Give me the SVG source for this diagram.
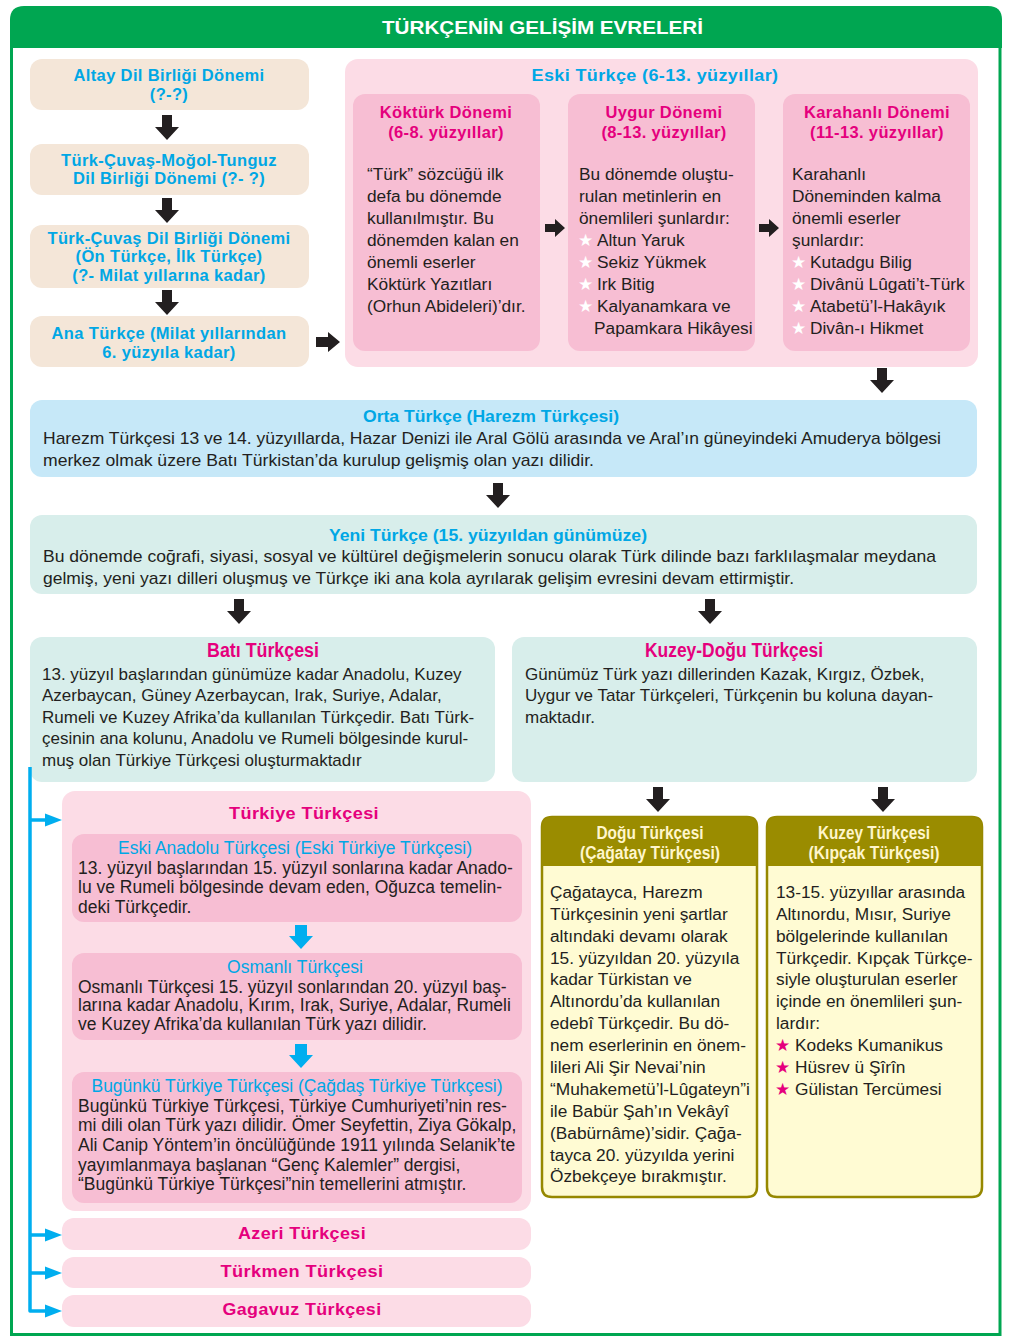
<svg xmlns="http://www.w3.org/2000/svg" width="1013" height="1343" viewBox="0 0 1013 1343">
<defs>
<style>
.bt{font-family:"Liberation Sans",Arial,sans-serif;font-weight:bold;font-size:16.5px;letter-spacing:.35px;text-anchor:middle}
.cy{fill:#00A7E5}
.mg{fill:#E5007D}
.tx{font-family:"Liberation Sans",Arial,sans-serif;font-size:17.3px;fill:#231F20}
.t17{font-size:17px}
.t175{font-size:17.5px}
.cd{font-family:"Liberation Sans Narrow","Liberation Sans",Arial,sans-serif;font-size:17px;fill:#231F20}
.cdt{font-family:"Liberation Sans Narrow","Liberation Sans",Arial,sans-serif;font-weight:bold;font-size:17px;fill:#00A7E5;text-anchor:middle}
.ds{font-family:"Liberation Sans",Arial,sans-serif;font-weight:bold;text-anchor:middle}
.ct{font-family:"Liberation Sans",Arial,sans-serif;font-size:17.5px;fill:#00A7E5;text-anchor:middle}
.st{font-family:"DejaVu Sans",sans-serif;font-size:17px}
.sw{fill:#ffffff}
.sm{fill:#E5007D}
.beige{fill:#F4E6D8}
.pk1{fill:#FCDCE6}
.pk2{fill:#F7BED3}
.blue{fill:#C6E8F8}
.teal{fill:#D8EEEB}
.ar{fill:#231F20}
.ac{fill:#00AEEF}
</style>
<path id="dA" d="M-5,0 H5 V12 H12 L0,25 L-12,12 H-5 Z"/>
<path id="rA" d="M0,-5 H12 V-10 L24,0 L12,10 V5 H0 Z"/>
<path id="rS" d="M0,-4 H10 V-9 L20,0 L10,9 V4 H0 Z"/>
<path id="cA" d="M-6,0 H6 V11 H12 L0,24 L-12,11 H-6 Z"/>
<path id="hA" d="M0,-6.5 L17,0 L0,6.5 Z"/>
</defs>

<!-- frame -->
<g id="frame">
<rect x="11.5" y="20" width="988.5" height="1314.5" fill="#ffffff" stroke="#00A651" stroke-width="3"/>
<path d="M10,48 V20 Q10,6 24,6 H988 Q1002,6 1002,20 V48 Z" fill="#00A651"/>
<text x="542.5" y="33.5" font-family="'Liberation Sans Narrow','Liberation Sans',Arial,sans-serif" font-weight="bold" font-size="19" fill="#ffffff" text-anchor="middle" textLength="321" lengthAdjust="spacingAndGlyphs">TÜRKÇENİN GELİŞİM EVRELERİ</text>
</g>

<!-- left column -->
<g id="altay">
<rect class="beige" x="30" y="59" width="279" height="51" rx="12"/>
<text class="bt cy" x="169" y="81">Altay Dil Birliği Dönemi</text>
<text class="bt cy" x="169" y="100">(?-?)</text>
</g>
<g id="tcmt">
<rect class="beige" x="30" y="144" width="279" height="51" rx="12"/>
<text class="bt cy" x="169" y="166">Türk-Çuvaş-Moğol-Tunguz</text>
<text class="bt cy" x="169" y="184">Dil Birliği Dönemi (?- ?)</text>
</g>
<g id="tc">
<rect class="beige" x="30" y="225" width="279" height="63" rx="12"/>
<text class="bt cy" x="169" y="244">Türk-Çuvaş Dil Birliği Dönemi</text>
<text class="bt cy" x="169" y="262">(Ön Türkçe, İlk Türkçe)</text>
<text class="bt cy" x="169" y="281">(?- Milat yıllarına kadar)</text>
</g>
<g id="ana">
<rect class="beige" x="30" y="316" width="279" height="51" rx="12"/>
<text class="bt cy" x="169" y="339">Ana Türkçe (Milat yıllarından</text>
<text class="bt cy" x="169" y="358">6. yüzyıla kadar)</text>
</g>

<!-- Eski Türkçe -->
<g id="eski">
<rect class="pk1" x="345" y="59" width="633" height="308" rx="13"/>
<text class="bt cy" x="655" y="81" textLength="247" lengthAdjust="spacingAndGlyphs">Eski Türkçe (6-13. yüzyıllar)</text>
</g>
<g id="kokturk">
<rect class="pk2" x="353" y="94" width="187" height="257" rx="12"/>
<text class="bt mg" x="446" y="118">Köktürk Dönemi</text>
<text class="bt mg" x="446" y="138">(6-8. yüzyıllar)</text>
<text class="tx" x="367" y="180">“Türk” sözcüğü ilk</text>
<text class="tx" x="367" y="202">defa bu dönemde</text>
<text class="tx" x="367" y="224">kullanılmıştır. Bu</text>
<text class="tx" x="367" y="246">dönemden kalan en</text>
<text class="tx" x="367" y="268">önemli eserler</text>
<text class="tx" x="367" y="290">Köktürk Yazıtları</text>
<text class="tx" x="367" y="312">(Orhun Abideleri)’dır.</text>
</g>
<g id="uygur">
<rect class="pk2" x="568" y="94" width="187" height="257" rx="12"/>
<text class="bt mg" x="664" y="118">Uygur Dönemi</text>
<text class="bt mg" x="664" y="138">(8-13. yüzyıllar)</text>
<text class="tx" x="579" y="180">Bu dönemde oluştu-</text>
<text class="tx" x="579" y="202">rulan metinlerin en</text>
<text class="tx" x="579" y="224">önemlileri şunlardır:</text>
<text class="tx" x="578" y="246"><tspan class="st sw">★</tspan><tspan x="597">Altun Yaruk</tspan></text>
<text class="tx" x="578" y="268"><tspan class="st sw">★</tspan><tspan x="597">Sekiz Yükmek</tspan></text>
<text class="tx" x="578" y="290"><tspan class="st sw">★</tspan><tspan x="597">Irk Bitig</tspan></text>
<text class="tx" x="578" y="312"><tspan class="st sw">★</tspan><tspan x="597">Kalyanamkara ve</tspan></text>
<text class="tx" x="594" y="334">Papamkara Hikâyesi</text>
</g>
<g id="karahanli">
<rect class="pk2" x="783" y="94" width="187" height="257" rx="12"/>
<text class="bt mg" x="877" y="118">Karahanlı Dönemi</text>
<text class="bt mg" x="877" y="138">(11-13. yüzyıllar)</text>
<text class="tx" x="792" y="180">Karahanlı</text>
<text class="tx" x="792" y="202">Döneminden kalma</text>
<text class="tx" x="792" y="224">önemli eserler</text>
<text class="tx" x="792" y="246">şunlardır:</text>
<text class="tx" x="791" y="268"><tspan class="st sw">★</tspan><tspan x="810">Kutadgu Bilig</tspan></text>
<text class="tx" x="791" y="290"><tspan class="st sw">★</tspan><tspan x="810">Divânü Lûgati’t-Türk</tspan></text>
<text class="tx" x="791" y="312"><tspan class="st sw">★</tspan><tspan x="810">Atabetü’l-Hakâyık</tspan></text>
<text class="tx" x="791" y="334"><tspan class="st sw">★</tspan><tspan x="810">Divân-ı Hikmet</tspan></text>
</g>

<!-- Orta Türkçe -->
<g id="orta">
<rect class="blue" x="30" y="400" width="947" height="77" rx="12"/>
<text class="cdt" x="491" y="422" textLength="256" lengthAdjust="spacingAndGlyphs">Orta Türkçe (Harezm Türkçesi)</text>
<text class="cd" x="43" y="444" textLength="898" lengthAdjust="spacingAndGlyphs">Harezm Türkçesi 13 ve 14. yüzyıllarda, Hazar Denizi ile Aral Gölü arasında ve Aral’ın güneyindeki Amuderya bölgesi</text>
<text class="cd" x="43" y="466" textLength="551" lengthAdjust="spacingAndGlyphs">merkez olmak üzere Batı Türkistan’da kurulup gelişmiş olan yazı dilidir.</text>
</g>

<!-- Yeni Türkçe -->
<g id="yeni">
<rect class="teal" x="30" y="515" width="947" height="79" rx="12"/>
<text class="cdt" x="488" y="541" textLength="318" lengthAdjust="spacingAndGlyphs">Yeni Türkçe (15. yüzyıldan günümüze)</text>
<text class="cd" x="43" y="562" textLength="893" lengthAdjust="spacingAndGlyphs">Bu dönemde coğrafi, siyasi, sosyal ve kültürel değişmelerin sonucu olarak Türk dilinde bazı farklılaşmalar meydana</text>
<text class="cd" x="43" y="584" textLength="751" lengthAdjust="spacingAndGlyphs">gelmiş, yeni yazı dilleri oluşmuş ve Türkçe iki ana kola ayrılarak gelişim evresini devam ettirmiştir.</text>
</g>

<!-- Batı -->
<g id="bati">
<rect class="teal" x="30" y="637" width="465" height="145" rx="12"/>
<text class="ds mg" x="263" y="657" font-size="20" textLength="112" lengthAdjust="spacingAndGlyphs">Batı Türkçesi</text>
<text class="tx t17" x="42" y="680">13. yüzyıl başlarından günümüze kadar Anadolu, Kuzey</text>
<text class="tx t17" x="42" y="701">Azerbaycan, Güney Azerbaycan, Irak, Suriye, Adalar,</text>
<text class="tx t17" x="42" y="723">Rumeli ve Kuzey Afrika’da kullanılan Türkçedir. Batı Türk-</text>
<text class="tx t17" x="42" y="744">çesinin ana kolunu, Anadolu ve Rumeli bölgesinde kurul-</text>
<text class="tx t17" x="42" y="766">muş olan Türkiye Türkçesi oluşturmaktadır</text>
</g>

<!-- Kuzey-Doğu -->
<g id="kuzeydogu">
<rect class="teal" x="512" y="637" width="465" height="145" rx="12"/>
<text class="ds mg" x="734" y="657" font-size="20" textLength="178" lengthAdjust="spacingAndGlyphs">Kuzey-Doğu Türkçesi</text>
<text class="tx t17" x="525" y="680">Günümüz Türk yazı dillerinden Kazak, Kırgız, Özbek,</text>
<text class="tx t17" x="525" y="701">Uygur ve Tatar Türkçeleri, Türkçenin bu koluna dayan-</text>
<text class="tx t17" x="525" y="723">maktadır.</text>
</g>

<!-- Türkiye Türkçesi -->
<g id="turkiye">
<rect class="pk1" x="62" y="791" width="469" height="420" rx="13"/>
<text class="bt mg" x="304" y="819" textLength="150" lengthAdjust="spacingAndGlyphs">Türkiye Türkçesi</text>
</g>
<g id="eskianadolu">
<rect class="pk2" x="72" y="834" width="450" height="88" rx="12"/>
<text class="ct" x="295" y="854">Eski Anadolu Türkçesi (Eski Türkiye Türkçesi)</text>
<text class="tx t175" x="78" y="874">13. yüzyıl başlarından 15. yüzyıl sonlarına kadar Anado-</text>
<text class="tx t175" x="78" y="893">lu ve Rumeli bölgesinde devam eden, Oğuzca temelin-</text>
<text class="tx t175" x="78" y="913">deki Türkçedir.</text>
</g>
<g id="osmanli">
<rect class="pk2" x="72" y="953" width="450" height="87" rx="12"/>
<text class="ct" x="295" y="973">Osmanlı Türkçesi</text>
<text class="tx t175" x="78" y="993">Osmanlı Türkçesi 15. yüzyıl sonlarından 20. yüzyıl baş-</text>
<text class="tx t175" x="78" y="1011">larına kadar Anadolu, Kırım, Irak, Suriye, Adalar, Rumeli</text>
<text class="tx t175" x="78" y="1030">ve Kuzey Afrika’da kullanılan Türk yazı dilidir.</text>
</g>
<g id="bugunku">
<rect class="pk2" x="72" y="1072" width="450" height="131" rx="12"/>
<text class="ct" x="297" y="1092">Bugünkü Türkiye Türkçesi (Çağdaş Türkiye Türkçesi)</text>
<text class="tx t175" x="78" y="1112">Bugünkü Türkiye Türkçesi, Türkiye Cumhuriyeti’nin res-</text>
<text class="tx t175" x="78" y="1131">mi dili olan Türk yazı dilidir. Ömer Seyfettin, Ziya Gökalp,</text>
<text class="tx t175" x="78" y="1151">Ali Canip Yöntem’in öncülüğünde 1911 yılında Selanik’te</text>
<text class="tx t175" x="78" y="1171">yayımlanmaya başlanan “Genç Kalemler” dergisi,</text>
<text class="tx t175" x="78" y="1190">“Bugünkü Türkiye Türkçesi”nin temellerini atmıştır.</text>
</g>
<g id="azeri">
<rect class="pk1" x="62" y="1218" width="469" height="32" rx="12"/>
<text class="bt mg" x="302" y="1239" textLength="128" lengthAdjust="spacingAndGlyphs">Azeri Türkçesi</text>
</g>
<g id="turkmen">
<rect class="pk1" x="62" y="1257" width="469" height="31" rx="12"/>
<text class="bt mg" x="302" y="1277" textLength="163" lengthAdjust="spacingAndGlyphs">Türkmen Türkçesi</text>
</g>
<g id="gagavuz">
<rect class="pk1" x="62" y="1295" width="469" height="32" rx="12"/>
<text class="bt mg" x="302" y="1315" textLength="159" lengthAdjust="spacingAndGlyphs">Gagavuz Türkçesi</text>
</g>

<!-- Doğu Türkçesi -->
<g id="dogu">
<path d="M542,827 Q542,817 552,817 H747 Q757,817 757,827 V1187 Q757,1197 747,1197 H552 Q542,1197 542,1187 Z" fill="#FFFBD3" stroke="#968800" stroke-width="2.5"/>
<path d="M542,866 V827 Q542,817 552,817 H747 Q757,817 757,827 V866 Z" fill="#9A8C00"/>
<text class="ds" x="650" y="839" font-size="17.5" fill="#FFF6CC" textLength="107" lengthAdjust="spacingAndGlyphs">Doğu Türkçesi</text>
<text class="ds" x="650" y="859" font-size="17.5" fill="#FFF6CC" textLength="140" lengthAdjust="spacingAndGlyphs">(Çağatay Türkçesi)</text>
<text class="tx" x="550" y="898">Çağatayca, Harezm</text>
<text class="tx" x="550" y="920">Türkçesinin yeni şartlar</text>
<text class="tx" x="550" y="942">altındaki devamı olarak</text>
<text class="tx" x="550" y="964">15. yüzyıldan 20. yüzyıla</text>
<text class="tx" x="550" y="985">kadar Türkistan ve</text>
<text class="tx" x="550" y="1007">Altınordu’da kullanılan</text>
<text class="tx" x="550" y="1029">edebî Türkçedir. Bu dö-</text>
<text class="tx" x="550" y="1051">nem eserlerinin en önem-</text>
<text class="tx" x="550" y="1073">lileri Ali Şir Nevai’nin</text>
<text class="tx" x="550" y="1095">“Muhakemetü’l-Lûgateyn”i</text>
<text class="tx" x="550" y="1117">ile Babür Şah’ın Vekâyî</text>
<text class="tx" x="550" y="1139">(Babürnâme)’sidir. Çağa-</text>
<text class="tx" x="550" y="1161">tayca 20. yüzyılda yerini</text>
<text class="tx" x="550" y="1182">Özbekçeye bırakmıştır.</text>
</g>

<!-- Kuzey Türkçesi -->
<g id="kuzey">
<path d="M767,827 Q767,817 777,817 H972 Q982,817 982,827 V1187 Q982,1197 972,1197 H777 Q767,1197 767,1187 Z" fill="#FFFBD3" stroke="#968800" stroke-width="2.5"/>
<path d="M767,866 V827 Q767,817 777,817 H972 Q982,817 982,827 V866 Z" fill="#9A8C00"/>
<text class="ds" x="874" y="839" font-size="17.5" fill="#FFF6CC" textLength="112" lengthAdjust="spacingAndGlyphs">Kuzey Türkçesi</text>
<text class="ds" x="874" y="859" font-size="17.5" fill="#FFF6CC" textLength="131" lengthAdjust="spacingAndGlyphs">(Kıpçak Türkçesi)</text>
<text class="tx" x="776" y="898">13-15. yüzyıllar arasında</text>
<text class="tx" x="776" y="920">Altınordu, Mısır, Suriye</text>
<text class="tx" x="776" y="942">bölgelerinde kullanılan</text>
<text class="tx" x="776" y="964">Türkçedir. Kıpçak Türkçe-</text>
<text class="tx" x="776" y="985">siyle oluşturulan eserler</text>
<text class="tx" x="776" y="1007">içinde en önemlileri şun-</text>
<text class="tx" x="776" y="1029">lardır:</text>
<text class="tx" x="775" y="1051"><tspan class="st sm">★</tspan><tspan x="795">Kodeks Kumanikus</tspan></text>
<text class="tx" x="775" y="1073"><tspan class="st sm">★</tspan><tspan x="795">Hüsrev ü Şîrîn</tspan></text>
<text class="tx" x="775" y="1095"><tspan class="st sm">★</tspan><tspan x="795">Gülistan Tercümesi</tspan></text>
</g>

<!-- connectors -->
<g id="connectors">
<use href="#dA" class="ar" x="167" y="115"/>
<use href="#dA" class="ar" x="167" y="198"/>
<use href="#dA" class="ar" x="167" y="290"/>
<use href="#rA" class="ar" x="316" y="342"/>
<use href="#rS" class="ar" x="545" y="228"/>
<use href="#rS" class="ar" x="759" y="228"/>
<use href="#dA" class="ar" x="882" y="368"/>
<use href="#dA" class="ar" x="498" y="483"/>
<use href="#dA" class="ar" x="239" y="599"/>
<use href="#dA" class="ar" x="710" y="599"/>
<use href="#dA" class="ar" x="658" y="787"/>
<use href="#dA" class="ar" x="883" y="787"/>
<use href="#cA" class="ac" x="301" y="925"/>
<use href="#cA" class="ac" x="301" y="1044"/>
<path d="M30,767 V1311 H47 M30,820 H47 M30,1235 H47 M30,1273 H47" fill="none" stroke="#00AEEF" stroke-width="3.5" stroke-linejoin="round"/>
<use href="#hA" class="ac" x="45" y="820"/>
<use href="#hA" class="ac" x="45" y="1235"/>
<use href="#hA" class="ac" x="45" y="1273"/>
<use href="#hA" class="ac" x="45" y="1311"/>
</g>
</svg>
